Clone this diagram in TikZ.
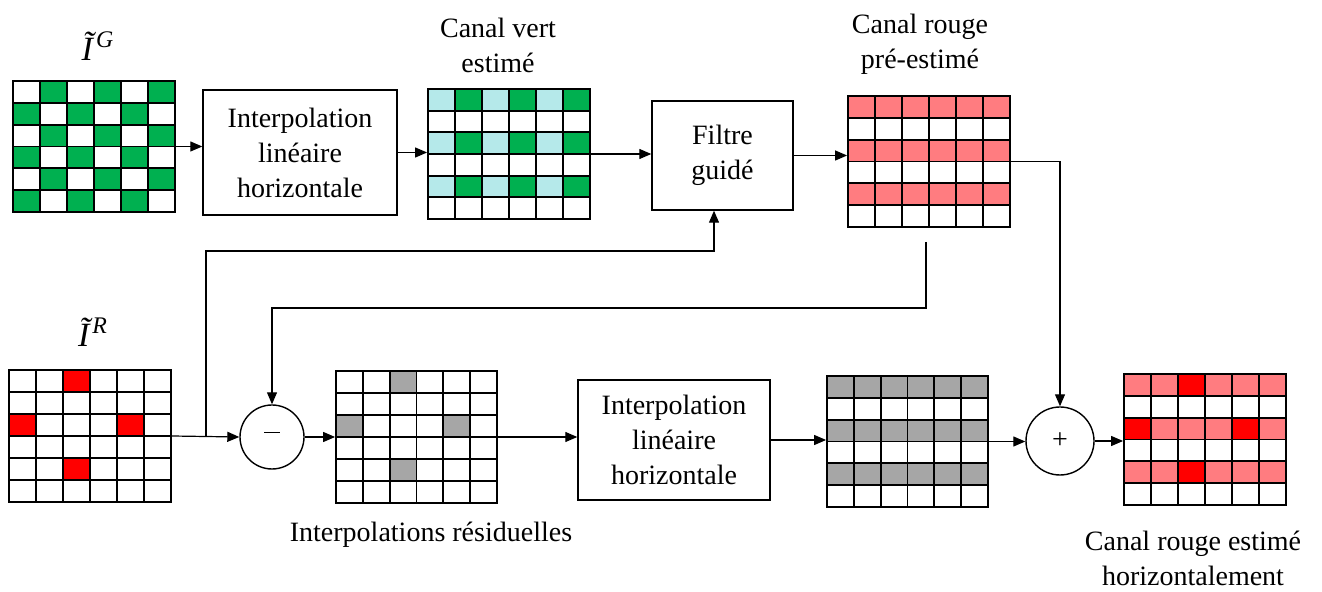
\documentclass[tikz,border=0pt]{standalone}
\usepackage{fontspec}
\setmainfont{LiberationSerif}[Extension=.ttf, UprightFont=*-Regular, ItalicFont=*-Italic, BoldFont=*-Bold, BoldItalicFont=*-BoldItalic]
\usetikzlibrary{arrows.meta,fit,calc}
\definecolor{cgreen}{HTML}{00B050}
\definecolor{ccyan}{HTML}{B5E9EA}
\definecolor{cpink}{HTML}{FF7C80}
\definecolor{cred}{HTML}{FF0000}
\definecolor{cgray}{HTML}{A6A6A6}
\newcommand{\mygrid}[4]{%
  \foreach \i in {1,...,5} {
    \draw[gridline] ({#1+\i*(#3-#1)/6},#2) -- ({#1+\i*(#3-#1)/6},#4);
    \draw[gridline] (#1,{#2+\i*(#4-#2)/6}) -- (#3,{#2+\i*(#4-#2)/6});
  }}
\newcommand{\myfill}[6]{%
  \foreach \r/\c in {#6}
    \fill[#1] ({#2+\c*(#4-#2)/6},{#3+\r*(#5-#3)/6}) rectangle ({#2+(\c+1)*(#4-#2)/6},{#3+(\r+1)*(#5-#3)/6});}
\tikzset{
  gridframe/.style={draw, line width=0.9pt, inner sep=0pt},
  gridline/.style={line width=0.9pt},
  procbox/.style={draw, line width=0.7pt, align=center, inner sep=0pt, font=\fontsize{14}{17.5}\selectfont},
  lbl/.style={align=center, inner sep=0pt, font=\fontsize{14}{17.5}\selectfont},
  op/.style={draw, circle, line width=0.7pt, inner sep=0pt, font=\fontsize{14}{17}\selectfont},
  arr/.style={-{Triangle[length=6pt,width=5pt]}, line width=0.6pt},
}
\begin{document}
\begin{tikzpicture}[x=0.5pt,y=-0.5pt]
\useasboundingbox (0,0) rectangle (1322,592);
% ---- grid I^G
\myfill{cgreen}{13}{81}{175}{212}{0/1,0/3,0/5,1/0,1/2,1/4,2/1,2/3,2/5,3/0,3/2,3/4,4/1,4/3,4/5,5/0,5/2,5/4}
\mygrid{13}{81}{175}{212}
\node[gridframe, fit={(13,81) (175,212)}] (G) {};
% ---- canal vert estime
\myfill{ccyan}{428}{89}{590}{219}{0/0,0/2,0/4,2/0,2/2,2/4,4/0,4/2,4/4}
\myfill{cgreen}{428}{89}{590}{219}{0/1,0/3,0/5,2/1,2/3,2/5,4/1,4/3,4/5}
\mygrid{428}{89}{590}{219}
\node[gridframe, fit={(428,89) (590,219)}] (V) {};
% ---- canal rouge pre-estime
\myfill{cpink}{848}{96}{1010}{227}{0/0,0/1,0/2,0/3,0/4,0/5,2/0,2/1,2/2,2/3,2/4,2/5,4/0,4/1,4/2,4/3,4/4,4/5}
\mygrid{848}{96}{1010}{227}
\node[gridframe, fit={(848,96) (1010,227)}] (P) {};
% ---- I^R
\myfill{cred}{9}{370}{171}{502}{0/2,2/0,2/4,4/2}
\mygrid{9}{370}{171}{502}
\node[gridframe, fit={(9,370) (171,502)}] (R) {};
% ---- residuals
\myfill{cgray}{336}{371}{497}{503}{0/2,2/0,2/4,4/2}
\mygrid{336}{371}{497}{503}
\node[gridframe, fit={(336,371) (497,503)}] (S) {};
% ---- gray rows
\myfill{cgray}{827}{376}{988}{507}{0/0,0/1,0/2,0/3,0/4,0/5,2/0,2/1,2/2,2/3,2/4,2/5,4/0,4/1,4/2,4/3,4/4,4/5}
\mygrid{827}{376}{988}{507}
\node[gridframe, fit={(827,376) (988,507)}] (H) {};
% ---- final
\myfill{cpink}{1124}{374}{1286}{505}{0/0,0/1,0/3,0/4,0/5,2/1,2/2,2/3,2/5,4/0,4/1,4/3,4/4,4/5}
\myfill{cred}{1124}{374}{1286}{505}{0/2,2/0,2/4,4/2}
\mygrid{1124}{374}{1286}{505}
\node[gridframe, fit={(1124,374) (1286,505)}] (F) {};
% ---- process boxes
\node[procbox, minimum width=97pt, minimum height=62.5pt] (B1) at (300,152.5) {Interpolation\\linéaire\\horizontale};
\node[procbox, minimum width=70.5pt, minimum height=54.5pt] (Fil) at (722.5,155.5) {Filtre\\guidé};
\node[procbox, minimum width=96pt, minimum height=60pt] (B2) at (674,440) {Interpolation\\linéaire\\horizontale};
\node[op, minimum size=32pt] (m) at (272,437) {\rule[0.3em]{0.55em}{0.5pt}};
\node[op, minimum size=34pt] (p) at (1060,441) {+};
% ---- labels
\node[lbl, font=\fontsize{17}{20}\selectfont] (lG) at (98,46) {\textit{Ĩ}\textsuperscript{\textit{G}}};
\node[lbl, font=\fontsize{17}{20}\selectfont] (lR) at (93,332) {\textit{Ĩ}\textsuperscript{\textit{R}}};
\node[lbl] (lV) at (498,45) {Canal vert\\estimé};
\node[lbl] (lP) at (920,44) {Canal rouge\\pré-estimé};
\node[lbl] (lS) at (431,535) {Interpolations résiduelles};
\node[lbl] (lF) at (1193,558) {Canal rouge estimé\\horizontalement};
% ---- connectors
\draw[arr] (G.east) -- (G.east -| B1.west);
\draw[arr] (B1.east) -- (B1.east -| V.west);
\draw[arr] (V.east) -- (V.east -| Fil.west);
\draw[arr] (Fil.east) -- (Fil.east -| P.west);
\draw[arr] (P.east) -| (p.north);
\coordinate (c1) at (926,242);
\coordinate (c2) at (926,308);
\draw[arr] (c1) -- (c2) -| (m.north);
\draw[arr] (R.east) -- (m.west);
\coordinate (j) at (206,437);
\coordinate (k) at (714,251);
\draw[arr] (j) |- (k) -- (k |- Fil.south);
\draw[arr] (m.east) -- (S.west);
\draw[arr] (S.east) -- (S.east -| B2.west);
\draw[arr] (B2.east) -- (B2.east -| H.west);
\draw[arr] (H.east) -- (H.east -| p.west);
\draw[arr] (p.east) -- (p.east -| F.west);
\end{tikzpicture}
\end{document}
